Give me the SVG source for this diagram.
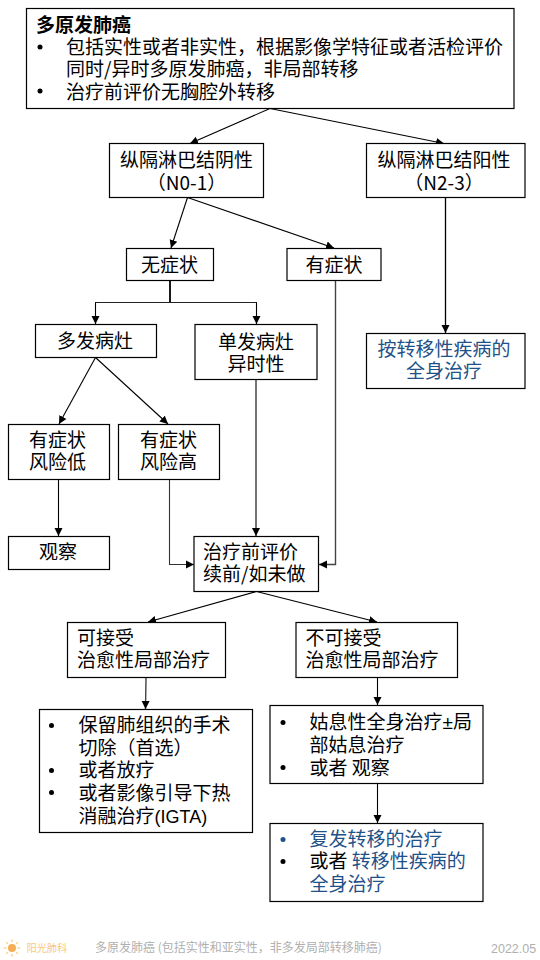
<svg xmlns="http://www.w3.org/2000/svg" width="540" height="960" viewBox="0 0 540 960">
<style>
text{font-family:"Noto Sans CJK SC","Liberation Sans",sans-serif;font-size:19px;fill:#000}
.b{fill:#fff;stroke:#000;stroke-width:1.2}
.m{text-anchor:middle}
.blue{fill:#1f5288}
.lat{font-family:"Liberation Sans",sans-serif}
.c line,.c path{fill:none;stroke:#000;stroke-width:1.1}
.f{fill:#b0b0b0;font-size:12px}
</style>
<defs><marker id="a" markerUnits="userSpaceOnUse" markerWidth="9" markerHeight="9" refX="8" refY="4.500" orient="auto"><path d="M0 0.500L8 4.500L0 8.500Z" fill="#000"/></marker></defs>
<g class="c" id="connectors">
<line x1="270" y1="108.500" x2="190" y2="143.500" marker-end="url(#a)"/>
<line x1="270" y1="108.500" x2="444" y2="143.500" marker-end="url(#a)"/>
<line x1="187.500" y1="197.500" x2="171" y2="248" marker-end="url(#a)"/>
<line x1="187.500" y1="197.500" x2="334" y2="248" marker-end="url(#a)"/>
<line x1="170" y1="281" x2="170" y2="302" style="stroke-width:1.800"/>
<line x1="95" y1="302.500" x2="257" y2="302.500" style="stroke:#222"/>
<line x1="95.500" y1="302.500" x2="95.500" y2="324" marker-end="url(#a)"/>
<line x1="256.500" y1="302.500" x2="256.500" y2="324" marker-end="url(#a)"/>
<line x1="95.500" y1="357.500" x2="59" y2="424" marker-end="url(#a)"/>
<line x1="95.500" y1="357.500" x2="168" y2="424" marker-end="url(#a)"/>
<line x1="58.500" y1="479.500" x2="58.500" y2="536" marker-end="url(#a)"/>
<path d="M169.500 479.500V564.500H194" marker-end="url(#a)" style="stroke:#333"/>
<line x1="256" y1="379.500" x2="256" y2="536" marker-end="url(#a)"/>
<path d="M335.500 281V564.500H319" marker-end="url(#a)" style="stroke:#444;stroke-width:1.400"/>
<line x1="445.500" y1="197.500" x2="445.500" y2="333" marker-end="url(#a)" style="stroke-width:1.300"/>
<line x1="256.500" y1="591.500" x2="148" y2="622" marker-end="url(#a)"/>
<line x1="256.500" y1="591.500" x2="377" y2="622" marker-end="url(#a)"/>
<line x1="146" y1="677.500" x2="145.500" y2="709" marker-end="url(#a)" style="stroke:#444;stroke-width:1.400"/>
<line x1="377.500" y1="677.500" x2="377.500" y2="705" marker-end="url(#a)"/>
<line x1="377.500" y1="783.500" x2="377.500" y2="823" marker-end="url(#a)"/>
</g>
<g id="n-top"><rect class="b" x="26.500" y="8.500" width="487.500" height="100"/>
<circle cx="40" cy="47" r="2.500"/><circle cx="40" cy="91" r="2.500"/>
<text><tspan x="36" y="32" font-weight="700">多原发肺癌</tspan><tspan x="66" y="54">包括实性或者非实性，根据影像学特征或者活检评价</tspan><tspan x="66" y="76">同时/异时多原发肺癌，非局部转移</tspan><tspan x="66" y="98.500">治疗前评价无胸腔外转移</tspan></text></g>
<g id="n-n0"><rect class="b" x="109.500" y="143.500" width="154" height="54"/><text class="m"><tspan x="186.500" y="167">纵隔淋巴结阴性</tspan><tspan x="186.500" y="190">（N0-1）</tspan></text></g>
<g id="n-n2"><rect class="b" x="366.500" y="143.500" width="158.500" height="54"/><text class="m"><tspan x="444" y="167">纵隔淋巴结阳性</tspan><tspan x="444" y="190">（N2-3）</tspan></text></g>
<g id="n-nosym"><rect class="b" x="126.500" y="248.500" width="87" height="32"/><text class="m" x="169.500" y="272">无症状</text></g>
<g id="n-sym"><rect class="b" x="287" y="248.500" width="94" height="32"/><text class="m" x="334" y="272">有症状</text></g>
<g id="n-multi"><rect class="b" x="35.500" y="324.500" width="121" height="33"/><text class="m" x="95" y="348">多发病灶</text></g>
<g id="n-single"><rect class="b" x="195" y="324.500" width="122" height="55"/><text class="m"><tspan x="256" y="349">单发病灶</tspan><tspan x="256" y="371">异时性</tspan></text></g>
<g id="n-met1"><rect class="b" x="366.500" y="333.500" width="158.500" height="55"/><text class="m blue"><tspan class="blue" x="444" y="356">按转移性疾病的</tspan><tspan class="blue" x="444" y="378">全身治疗</tspan></text></g>
<g id="n-low"><rect class="b" x="8.500" y="424.500" width="101" height="55"/><text class="m"><tspan x="57.500" y="447">有症状</tspan><tspan x="57.500" y="469">风险低</tspan></text></g>
<g id="n-high"><rect class="b" x="118.500" y="424.500" width="101" height="55"/><text class="m"><tspan x="168.500" y="447">有症状</tspan><tspan x="168.500" y="469">风险高</tspan></text></g>
<g id="n-obs"><rect class="b" x="8.500" y="536.500" width="101" height="33"/><text class="m" x="58" y="559">观察</text></g>
<g id="n-eval"><rect class="b" x="194" y="536.500" width="124.500" height="55"/><text><tspan x="203" y="559">治疗前评价</tspan><tspan x="203" y="581">续前/如未做</tspan></text></g>
<g id="n-ok"><rect class="b" x="67.500" y="622.500" width="158" height="55"/><text><tspan x="77" y="645">可接受</tspan><tspan x="77" y="667">治愈性局部治疗</tspan></text></g>
<g id="n-no"><rect class="b" x="296" y="622.500" width="161.500" height="55"/><text><tspan x="305.500" y="645">不可接受</tspan><tspan x="305.500" y="667">治愈性局部治疗</tspan></text></g>
<g id="n-okt"><rect class="b" x="39.500" y="709.500" width="213" height="123"/>
<circle cx="51.500" cy="725.500" r="2.500"/><circle cx="51.500" cy="770.500" r="2.500"/><circle cx="51.500" cy="792.500" r="2.500"/>
<text><tspan x="78.500" y="732">保留肺组织的手术</tspan><tspan x="78.500" y="755">切除（首选）</tspan><tspan x="78.500" y="777">或者放疗</tspan><tspan x="78.500" y="800">或者影像引导下热</tspan><tspan x="78.500" y="823">消融治疗<tspan class="lat" style="font-size:18px">(IGTA)</tspan></tspan></text></g>
<g id="n-not"><rect class="b" x="270" y="705.500" width="213" height="78"/>
<circle cx="283" cy="722.500" r="2.500"/><circle cx="283" cy="767.500" r="2.500"/>
<text><tspan x="309.500" y="729">姑息性全身治疗<tspan class="lat">±</tspan>局</tspan><tspan x="309.500" y="752">部姑息治疗</tspan><tspan x="309.500" y="775">或者 观察</tspan></text></g>
<g id="n-rec"><rect class="b" x="270" y="823.500" width="213" height="78"/>
<circle cx="283" cy="839.500" r="2.500" fill="#1f5288"/><circle cx="283" cy="861.500" r="2.500"/>
<text><tspan class="blue" x="309.500" y="846">复发转移的治疗</tspan><tspan x="309.500" y="868">或者 <tspan class="blue">转移性疾病的</tspan></tspan><tspan class="blue" x="309.500" y="891">全身治疗</tspan></text></g>
<g id="footer"><circle cx="12" cy="948" r="4" fill="#f6ad55"/><g stroke="#f9d58e" stroke-width="1.500" stroke-linecap="round"><line x1="12" y1="940" x2="12" y2="941.500"/><line x1="12" y1="954.500" x2="12" y2="956"/><line x1="4.500" y1="948" x2="6" y2="948"/><line x1="18" y1="948" x2="19.500" y2="948"/><line x1="6.500" y1="942.500" x2="7.500" y2="943.500"/><line x1="16.500" y1="952.500" x2="17.500" y2="953.500"/><line x1="17.500" y1="942.500" x2="16.500" y2="943.500"/><line x1="7.500" y1="952.500" x2="6.500" y2="953.500"/></g>
<text x="26.500" y="952" style="font-size:10.200px;fill:#f9c97a">阳光肺科</text>
<text class="f" x="95" y="952">多原发肺癌 (包括实性和亚实性，非多发局部转移肺癌)</text>
<text class="f" x="491" y="953" style="font-family:'Liberation Sans',sans-serif;font-size:12.500px">2022.05</text></g>
</svg>
